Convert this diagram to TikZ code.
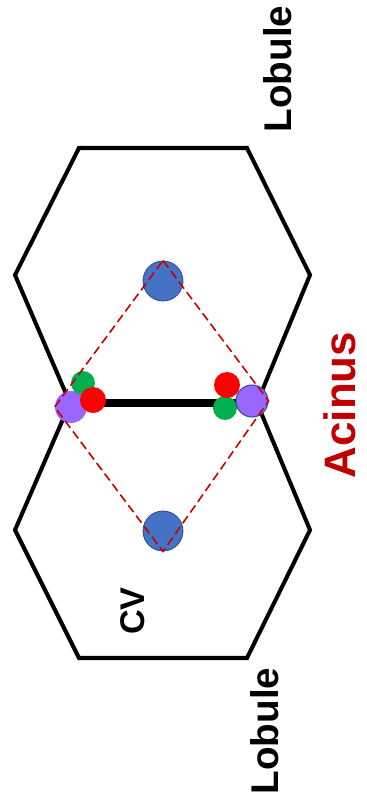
\documentclass[tikz,border=0pt]{standalone}
\usepackage{fontspec}
\setmainfont{Liberation Sans}
\usepackage{tikz}
\usetikzlibrary{positioning}
\definecolor{cvBlue}{RGB}{68, 114, 196}
\definecolor{cvEdge}{RGB}{47, 82, 143}
\definecolor{ptPurple}{RGB}{153, 102, 255}
\definecolor{ptGreen}{RGB}{0, 176, 80}
\definecolor{ptRed}{RGB}{255, 0, 0}
\definecolor{acinusRed}{RGB}{192, 0, 0}

\begin{document}
\begin{tikzpicture}[x=0.02cm, y=-0.02cm,
    lobuleline/.style={line width=2.3pt, line join=miter},
    centralvein/.style={circle, fill=cvBlue, draw=cvEdge, line width=0.5pt, inner sep=0pt, minimum size=0.8cm},
    portalvein/.style={circle, fill=ptPurple, inner sep=0pt, minimum size=0.64cm},
    bileduct/.style={circle, fill=ptGreen, inner sep=0pt, minimum size=0.48cm},
    hepartery/.style={circle, fill=ptRed, inner sep=0pt, minimum size=0.52cm},
    acinusline/.style={draw=acinusRed!90!red, line width=0.9pt, dash pattern=on 5pt off 2.5pt},
    biglabel/.style={rotate=90, font=\fontsize{22}{26}\selectfont\bfseries}]
    \useasboundingbox (0,0) rectangle (366,809);

    % Corners of the two lobules
    \coordinate (tA) at (79,148);
    \coordinate (tB) at (247,148);
    \coordinate (tC) at (310,275);
    \coordinate (mR) at (257,403);
    \coordinate (mL) at (70,403);
    \coordinate (tF) at (15,275);
    \coordinate (bC) at (310,530);
    \coordinate (bD) at (247,658);
    \coordinate (bE) at (79,658);
    \coordinate (bF) at (15,530);

    % Lobules
    \draw[lobuleline] (tA) -- (tB) -- (tC) -- (mR) -- (bC) -- (bD) -- (bE) -- (bF) -- (mL) -- (tF) -- cycle;
    \draw[line width=4.5pt] (mL) -- (mR);

    % Central veins
    \node[centralvein] (cvTop) at (163,281) {};
    \node[centralvein] (cvBot) at (163,531) {};

    % Portal triad, left
    \node[portalvein] (pvL) at (71,407) {};
    \node[bileduct] (bdL) at (83,383) {};
    \node[hepartery] (haL) at (93,400) {};

    % Portal triad, right
    \node[bileduct] (bdR) at (225,408) {};
    \node[hepartery] (haR) at (227,385) {};
    \node[portalvein, draw=cvEdge, line width=0.6pt] (pvR) at (252,401) {};

    % Acinus
    \draw[acinusline] (cvTop.north) -- (pvR.east) -- (cvBot.south) -- (pvL.west) -- cycle;

    % Labels
    \node[biglabel] (lobTop) at (278,69) {Lobule};
    \node[biglabel] (lobBot) at (265,731) {Lobule};
    \node[biglabel, text=acinusRed, font=\fontsize{25}{30}\selectfont\bfseries] (acinus) at (340,405) {Acinus};
    \node[biglabel, font=\fontsize{19.5}{23}\selectfont\bfseries] (cv) at (133,611) {CV};
\end{tikzpicture}
\end{document}
